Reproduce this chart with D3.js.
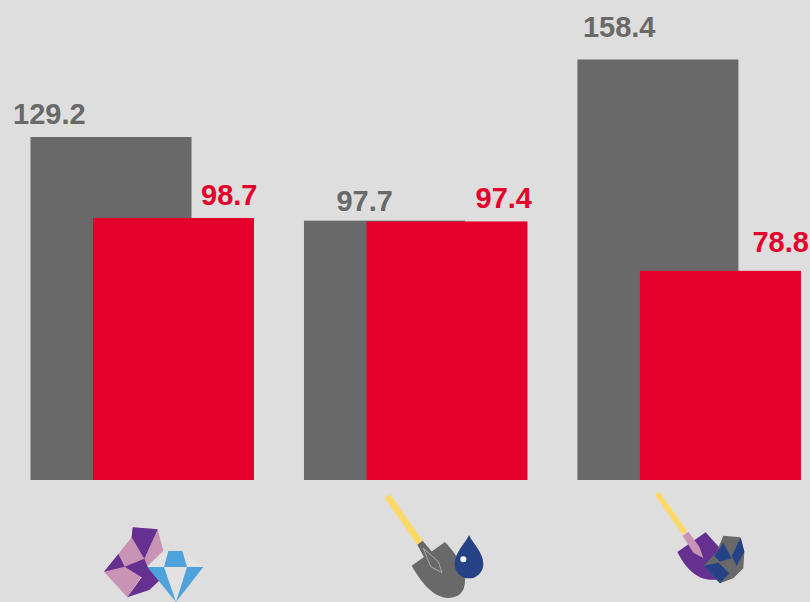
<!DOCTYPE html>
<html>
<head>
<meta charset="utf-8">
<script src="https://cdn.jsdelivr.net/npm/d3@7"></script>
<style>
  html, body { margin:0; padding:0; background:#dedede; }
  svg { display:block; }
  text { font-family:"Liberation Sans", Arial, sans-serif; font-weight:700; font-size:29px; }
</style>
</head>
<body>
<div id="chart"></div>
<script>
// Values
const categories = ["gems", "oil", "ore"];
const grayValues = [129.2, 97.7, 158.4];
const redValues  = [98.7, 97.4, 78.8];

const W = 810, H = 602;
const GRAY = "#696969", RED = "#e4002b", BG = "#dedede";
const BAR_W = 161, RED_SHIFT = 62.5;
const BASE_Y = 480;

// Hand-placed label shifts, relative to the bar edges
const GRAY_LABEL_DX = [-17.5, 32.5, 5.5];
const GRAY_LABEL_DY = [13, 10, 22.5];
const RED_LABEL_DX  = [3.5, 4.5, 8];
const RED_LABEL_DY  = [13, 13, 19];

const svg = d3.select("#chart").append("svg")
  .attr("viewBox", `0 0 ${W} ${H}`).attr("width", W).attr("height", H);

svg.append("rect").attr("width", W).attr("height", H).attr("fill", BG);

const x = d3.scaleBand().domain(categories).range([30.5, 801]).paddingInner(0.1824).paddingOuter(0);
const y = d3.scaleLinear().domain([0, 158.4]).range([BASE_Y, 59.5]);

// Gray bars sit behind, red ones overlap them
svg.selectAll(".bar-gray").data(categories).join("rect")
  .attr("class", "bar-gray")
  .attr("x", d => x(d)).attr("width", BAR_W)
  .attr("y", (d, i) => y(grayValues[i]))
  .attr("height", (d, i) => BASE_Y - y(grayValues[i]))
  .attr("fill", GRAY);

svg.selectAll(".bar-red").data(categories).join("rect")
  .attr("class", "bar-red")
  .attr("x", d => x(d) + RED_SHIFT).attr("width", BAR_W)
  .attr("y", (d, i) => y(redValues[i]))
  .attr("height", (d, i) => BASE_Y - y(redValues[i]))
  .attr("fill", RED);

// Value labels
svg.selectAll(".label-gray").data(categories).join("text")
  .attr("class", "label-gray")
  .attr("x", (d, i) => x(d) + GRAY_LABEL_DX[i])
  .attr("y", (d, i) => y(grayValues[i]) - GRAY_LABEL_DY[i])
  .attr("fill", GRAY)
  .text((d, i) => grayValues[i].toFixed(1));

svg.selectAll(".label-red").data(categories).join("text")
  .attr("class", "label-red")
  .attr("x", (d, i) => x(d) + RED_SHIFT + BAR_W + RED_LABEL_DX[i])
  .attr("y", (d, i) => y(redValues[i]) - RED_LABEL_DY[i])
  .attr("text-anchor", "end")
  .attr("fill", RED)
  .text((d, i) => redValues[i].toFixed(1));

// Icons under the bars, traced at 3x so the local units are thirds of a pixel
const PURPLE = "#65308f", PINK = "#c893b4", BLUE = "#4fa3dc", PALE = "#e2e2e2",
      NAVY = "#264287", YELLOW = "#ffd966";

function icon(tx, ty) {
  const g = svg.append("g").attr("transform", `translate(${tx},${ty}) scale(${1/3})`);
  return {
    g,
    poly(pts, fill) { g.append("polygon").attr("points", pts).attr("fill", fill); },
    path(d, fill) { g.append("path").attr("d", d).attr("fill", fill); }
  };
}

// Gems
const gems = icon(90, 480);
gems.poly("128,142 203,148 220,212 170,260 150,295 112,352 42,275 85,222 125,172", PINK);
gems.poly("128,142 203,148 163,236 125,172", PURPLE);
gems.poly("85,222 104,260 42,275", PURPLE);
gems.poly("163,236 104,260 155,292 112,352 178,330 210,300 172,258", PURPLE);
gems.poly("235,213 222,261 172,261", PALE);
gems.poly("277,213 291,261 340,261", PALE);
gems.poly("222,261 291,261 258,366", PALE);
gems.poly("235,213 277,213 291,261 222,261", BLUE);
gems.poly("172,261 222,261 258,366", BLUE);
gems.poly("291,261 340,261 258,366", BLUE);

// Shovel and oil drop
const oil = icon(370, 480);
oil.poly("44,54 60,42 158,182 142,194", YELLOW);
oil.path("M125,257 L225,186 Q285,250 285,300 Q285,352 235,354 C185,352 150,300 125,257Z", GRAY);
oil.poly("142,194 158,182 207,240 220,282 178,262", GRAY);
oil.g.append("polygon").attr("points", "160,205 205,245 216,278 182,260")
  .attr("fill", "none").attr("stroke", "#c8c8c8").attr("stroke-width", 2);
oil.path("M297,165 C308,190 340,218 340,252 A43,43 0 0 1 254,252 C254,218 286,190 297,165Z", NAVY);
oil.g.append("circle").attr("cx", 280).attr("cy", 238).attr("r", 9).attr("fill", "#fff");

// Shovel and ore
const ore = icon(640, 480);
ore.poly("45,45 58,35 141,153 128,165", YELLOW);
ore.path("M112,216 L197,157 L240,205 L240,298 C190,305 150,290 112,216Z", PURPLE);
ore.poly("128,167 145,155 178,200 190,234 160,218", PINK);
ore.poly("250,167 300,172 313,215 310,265 280,295 240,310 192,257 230,215", GRAY);
ore.poly("250,188 222,228 240,245 275,235", NAVY);
ore.poly("302,172 275,228 290,258 313,215", NAVY);
ore.poly("192,257 235,248 268,280 240,310", NAVY);
</script>
</body>
</html>
